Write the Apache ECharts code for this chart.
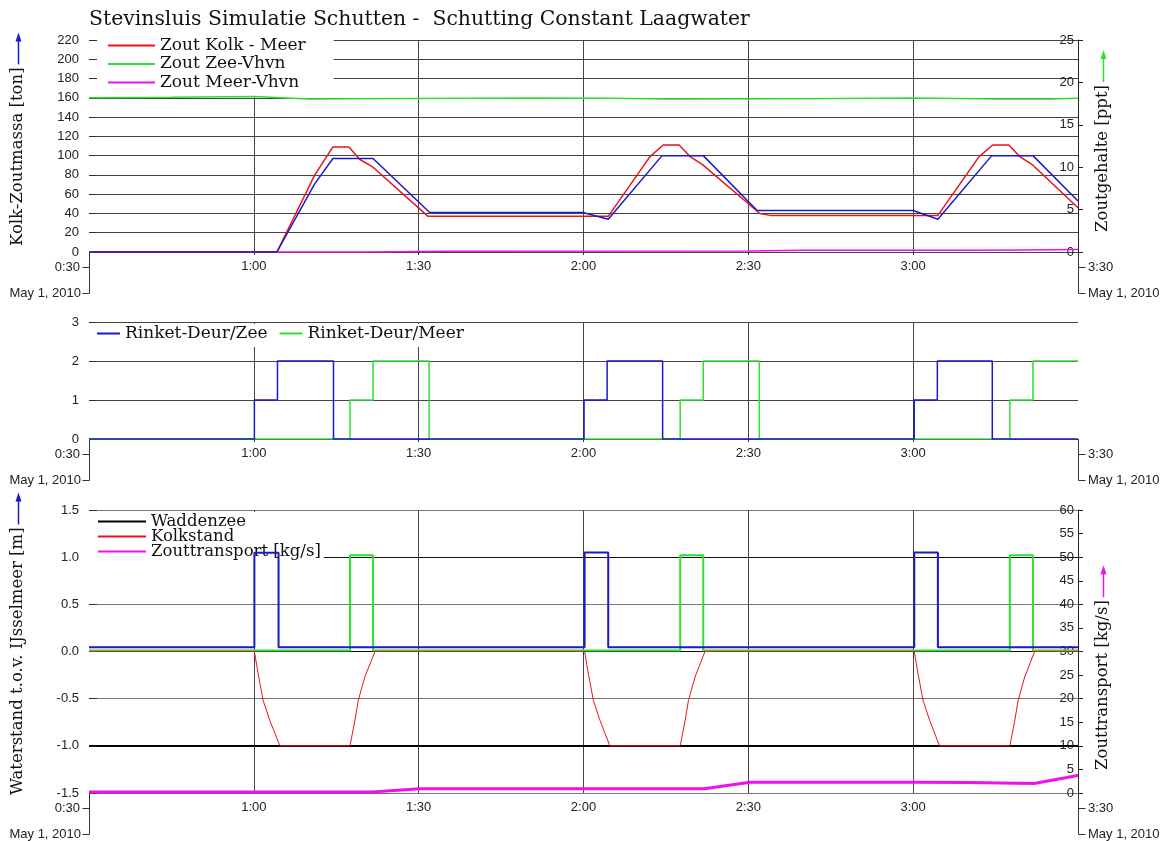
<!DOCTYPE html>
<html><head><meta charset="utf-8">
<script src="https://cdn.jsdelivr.net/npm/echarts@6/dist/echarts.min.js"></script>
<style>html,body{margin:0;padding:0;background:#fff}#c{width:1168px;height:841px}</style>
</head><body><div id="c"></div>
<script>
// ---------- data (time in minutes after 0:00, May 1, 2010) ----------
const titleText = 'Stevinsluis Simulatie Schutten -  Schutting Constant Laagwater';
const xTickLabels = ['0:30', '1:00', '1:30', '2:00', '2:30', '3:00', '3:30'];
const dateLabel = 'May 1, 2010';

// Panel 1 - salt mass [ton] / salinity [ppt]
const zoutKolkMeer = [[30,0],[64.2,0],[71.1,80],[74.4,109],[77.3,109],[79.3,96],[81.7,88],[91.7,37],[124.5,37],[132.1,99],[134.5,111],[137.4,111],[139.4,99],[141.6,91],[152.1,40],[154,38],[184.5,38],[192,99],[194.5,111],[197.4,111],[199.4,99],[201.6,91],[210,46]];
const zoutKolkZee = [[30,0],[64.2,0],[71.1,71],[74.4,97],[81.7,97],[92,41],[119.9,41],[124.5,34],[134.3,100],[141.8,100],[151.6,43],[180,43],[184.5,34],[194.3,100],[201.8,100],[210,53]];
const zoutZeeVhvn = [[30,18.18],[45,18.25],[60,18.35],[70,18.05],[90,18.1],[110,18.15],[125,18.12],[135,18.03],[160,18.08],[180,18.15],[195,18.03],[205,18.05],[210,18.12]];
const zoutMeerVhvn = [[30,0],[80,0],[95,0.1],[150,0.13],[160,0.2],[190,0.2],[200,0.25],[210,0.3]];

// Panel 2 - door states (value holds from this time until next)
const deurZee = [[30,0],[60.1,1],[64.3,2],[74.5,0],[120.1,1],[124.3,2],[134.4,0],[180.2,1],[184.4,2],[194.4,0],[210,0]];
const deurMeer = [[30,0],[77.5,1],[81.7,2],[91.9,0],[137.6,1],[141.8,2],[152,0],[197.6,1],[201.8,2],[210,2]];

// Panel 3 - water levels [m] / salt transport [kg/s]
const waddenzee = [[30,-1],[210,-1]];
const kolkstand = [[30,0],[60.1,0],[60.8,-0.24],[61.7,-0.52],[62.9,-0.73],[64.75,-1],[77.5,-1],[78.4,-0.73],[79.0,-0.52],[80.2,-0.27],[82.05,0],
  [120.2,0],[120.9,-0.24],[121.8,-0.52],[123,-0.73],[124.8,-1],[137.6,-1],[138.5,-0.73],[139.1,-0.52],[140.3,-0.27],[142.1,0],
  [180.2,0],[180.9,-0.24],[181.8,-0.52],[183,-0.73],[184.8,-1],[197.6,-1],[198.5,-0.73],[199.1,-0.52],[200.3,-0.27],[202.1,0],[210,0]];
const pulsZee = [[30,0.045],[60.1,1.047],[64.5,0.045],[120.2,1.05],[124.5,0.045],[180.2,1.05],[184.5,0.045],[210,0.045]];
const pulsMeer = [[30,0.01],[77.5,1.02],[81.7,0.01],[137.6,1.02],[141.8,0.01],[197.6,1.02],[201.8,0.01],[210,0.01]];
const zouttransport = [[30,0.2],[81.5,0.2],[90.2,0.9],[142,0.9],[150.3,2.3],[180,2.3],[190,2.2],[202,2.0],[210,3.7]];

// ---------- layout ----------
const L = 89, R = 1078;
const G = [{top:40,height:212},{top:322,height:117},{top:510,height:283}];
const RED='#e8141c', BLUE='#1a1ac8', GREEN='#2ee02e', MAG='#ee11ee', BLK='#000';
const SERIF = 'DejaVu Serif', SANS = 'Liberation Sans';
const GRID_C = '#444', TXT_C = '#222';

const chart = echarts.init(document.getElementById('c'), null, {renderer:'canvas'});

function xAx(i){
  return {type:'value', gridIndex:i, min:30, max:210, interval:30,
    axisLine:{show:false},
    axisTick:{show:true, length:3, lineStyle:{color:'#333'}},
    axisLabel:{showMinLabel:false, showMaxLabel:false, margin:8, fontSize:13, fontFamily:SANS, color:TXT_C,
      formatter:v => xTickLabels[Math.round((v-30)/30)]},
    splitLine:{show:true, showMinLine:false, showMaxLine:false, lineStyle:{color:GRID_C, width:1}}};
}
function yLeft(i, min, max, interval, extra){
  return Object.assign({type:'value', gridIndex:i, position:'left', min, max, interval,
    axisLine:{show:false},
    axisTick:{show:true, inside:true, length:8, lineStyle:{color:'#333'}},
    axisLabel:{margin:10, fontSize:13, fontFamily:SANS, color:TXT_C},
    splitLine:{show:true, lineStyle:{color:GRID_C, width:1}}}, extra||{});
}
function yRight(i, min, max, interval){
  return {type:'value', gridIndex:i, position:'right', min, max, interval,
    axisLine:{show:true, lineStyle:{color:'#222', width:1}},
    axisTick:{show:true, inside:false, length:5, lineStyle:{color:'#222'}},
    axisLabel:{inside:true, margin:4, fontSize:13, fontFamily:SANS, color:TXT_C},
    splitLine:{show:false}};
}
function line(name, data, xi, yi, color, width, extra){
  return Object.assign({type:'line', name, data, xAxisIndex:xi, yAxisIndex:yi, symbol:'none', showSymbol:false,
    z:3, animation:false, silent:true, lineStyle:{color, width}, itemStyle:{color}}, extra||{});
}

// decorations: time-axis end labels, axis names and arrows
function textWidth(t, font){
  const c = document.createElement('canvas').getContext('2d'); c.font = font; return c.measureText(t).width;
}
const graphics = [];
G.forEach(g => {
  const b = g.top + g.height;
  const lx = L + 0.5, rx = R + 0.5;
  const y1 = b + 15.5, y2 = b + 41.5;
  graphics.push({type:'line', silent:true, shape:{x1:lx,y1:b,x2:lx,y2:y2}, style:{stroke:'#333', lineWidth:1}});
  graphics.push({type:'line', silent:true, shape:{x1:lx-7,y1:y1,x2:lx,y2:y1}, style:{stroke:'#333', lineWidth:1}});
  graphics.push({type:'line', silent:true, shape:{x1:lx-7,y1:y2,x2:lx,y2:y2}, style:{stroke:'#333', lineWidth:1}});
  graphics.push({type:'line', silent:true, shape:{x1:rx,y1:b,x2:rx,y2:y2}, style:{stroke:'#333', lineWidth:1}});
  graphics.push({type:'line', silent:true, shape:{x1:rx,y1:y1,x2:rx+7,y2:y1}, style:{stroke:'#333', lineWidth:1}});
  graphics.push({type:'line', silent:true, shape:{x1:rx,y1:y2,x2:rx+7,y2:y2}, style:{stroke:'#333', lineWidth:1}});
  const f = '13px "' + SANS + '"';
  graphics.push({type:'text', silent:true, x:L-9, y:y1, style:{text:xTickLabels[0], font:f, fill:TXT_C, textAlign:'right', textVerticalAlign:'middle'}});
  graphics.push({type:'text', silent:true, x:L-8, y:y2, style:{text:dateLabel, font:f, fill:TXT_C, textAlign:'right', textVerticalAlign:'middle'}});
  graphics.push({type:'text', silent:true, x:R+10, y:y1, style:{text:xTickLabels[6], font:f, fill:TXT_C, textAlign:'left', textVerticalAlign:'middle'}});
  graphics.push({type:'text', silent:true, x:R+10, y:y2, style:{text:dateLabel, font:f, fill:TXT_C, textAlign:'left', textVerticalAlign:'middle'}});
});
const nameFont = '16.5px "' + SERIF + '"';
function axisName(text, x, yBottom, arrowColor){
  const w = textWidth(text, nameFont);
  graphics.push({type:'text', silent:true, x, y:yBottom, rotation:Math.PI/2,
    style:{text, font:nameFont, fill:'#111', textAlign:'left', textVerticalAlign:'middle'}});
  const tail = yBottom - w - 3, tip = tail - 32;
  graphics.push({type:'line', silent:true, shape:{x1:x+0.5,y1:tail,x2:x+0.5,y2:tip+6}, style:{stroke:arrowColor, lineWidth:1.5}});
  graphics.push({type:'polygon', silent:true, shape:{points:[[x+0.5,tip],[x-2.5,tip+9],[x+3.5,tip+9]]}, style:{fill:arrowColor}});
}
const b1 = G[0].top + G[0].height, b3 = G[2].top + G[2].height;
axisName('Kolk-Zoutmassa [ton]', 18, b1 - 6, BLUE);
axisName('Zoutgehalte [ppt]', 1103, b1 - 20, GREEN);
axisName('Waterstand t.o.v. IJsselmeer [m]', 18, b3 + 2, BLUE);
axisName('Zouttransport [kg/s]', 1103, b3 - 23, MAG);

const option = {
  animation:false,
  backgroundColor:'#fff',
  title:{text:titleText, left:L, top:10, padding:0,
    textStyle:{fontFamily:SERIF, fontSize:20.4, fontWeight:'normal', color:'#111'}},
  grid:G.map(g => ({left:L, right:1168-R, top:g.top, height:g.height, outerBoundsMode:'none', containLabel:false})),
  legend:[
    {orient:'vertical', left:97, top:36, z:2, itemWidth:47, itemHeight:2, itemGap:1.5, icon:'rect',
      padding:[1,28,5,11], backgroundColor:'#fff', selectedMode:false,
      data:['Zout Kolk - Meer','Zout Zee-Vhvn','Zout Meer-Vhvn'],
      textStyle:{fontFamily:SERIF, fontSize:17, color:'#111'}},
    {orient:'horizontal', left:L, top:324, z:2, itemWidth:23, itemHeight:2, itemGap:12, icon:'rect',
      padding:[1,8,5,8], backgroundColor:'#fff', selectedMode:false,
      data:['Rinket-Deur/Zee','Rinket-Deur/Meer'],
      textStyle:{fontFamily:SERIF, fontSize:17, color:'#111'}},
    {orient:'vertical', left:L, top:512, z:2, itemWidth:48, itemHeight:2, itemGap:-2, icon:'rect',
      padding:[1,3,4,9], backgroundColor:'#fff', selectedMode:false,
      data:['Waddenzee','Kolkstand','Zouttransport [kg/s]'],
      textStyle:{fontFamily:SERIF, fontSize:16.5, color:'#111'}}
  ],
  xAxis:[xAx(0), xAx(1), xAx(2)],
  yAxis:[
    yLeft(0, 0, 220, 20),
    yRight(0, 0, 25, 5),
    yLeft(1, 0, 3, 1),
    yLeft(2, -1.5, 1.5, 0.5, {
      axisLabel:{margin:10, fontSize:13, fontFamily:SANS, color:TXT_C, formatter:v => v.toFixed(1)},
      splitLine:{show:true, lineStyle:{color:['#777','#111'], width:1}}}),
    yRight(2, 0, 60, 5)
  ],
  series:[
    line('Zout Meer-Vhvn', zoutMeerVhvn, 0, 1, MAG, 1.5),
    line('Zout Zee-Vhvn', zoutZeeVhvn, 0, 1, GREEN, 1.5),
    line('Zout Kolk - Meer', zoutKolkMeer, 0, 0, RED, 1.5),
    line('Zout Kolk - Zee', zoutKolkZee, 0, 0, BLUE, 1.5),
    line('Rinket-Deur/Meer', deurMeer, 1, 2, GREEN, 1.5, {step:'end'}),
    line('Rinket-Deur/Zee', deurZee, 1, 2, BLUE, 1.5, {step:'end'}),
    line('Waddenzee', waddenzee, 2, 3, BLK, 1.5),
    line('Puls Meer', pulsMeer, 2, 3, GREEN, 2, {step:'end'}),
    line('Puls Zee', pulsZee, 2, 3, BLUE, 2, {step:'end'}),
    line('Kolkstand', kolkstand, 2, 3, RED, 1),
    line('Zouttransport [kg/s]', zouttransport, 2, 4, MAG, 3)
  ],
  graphic:{elements:graphics}
};
chart.setOption(option);
</script></body></html>
